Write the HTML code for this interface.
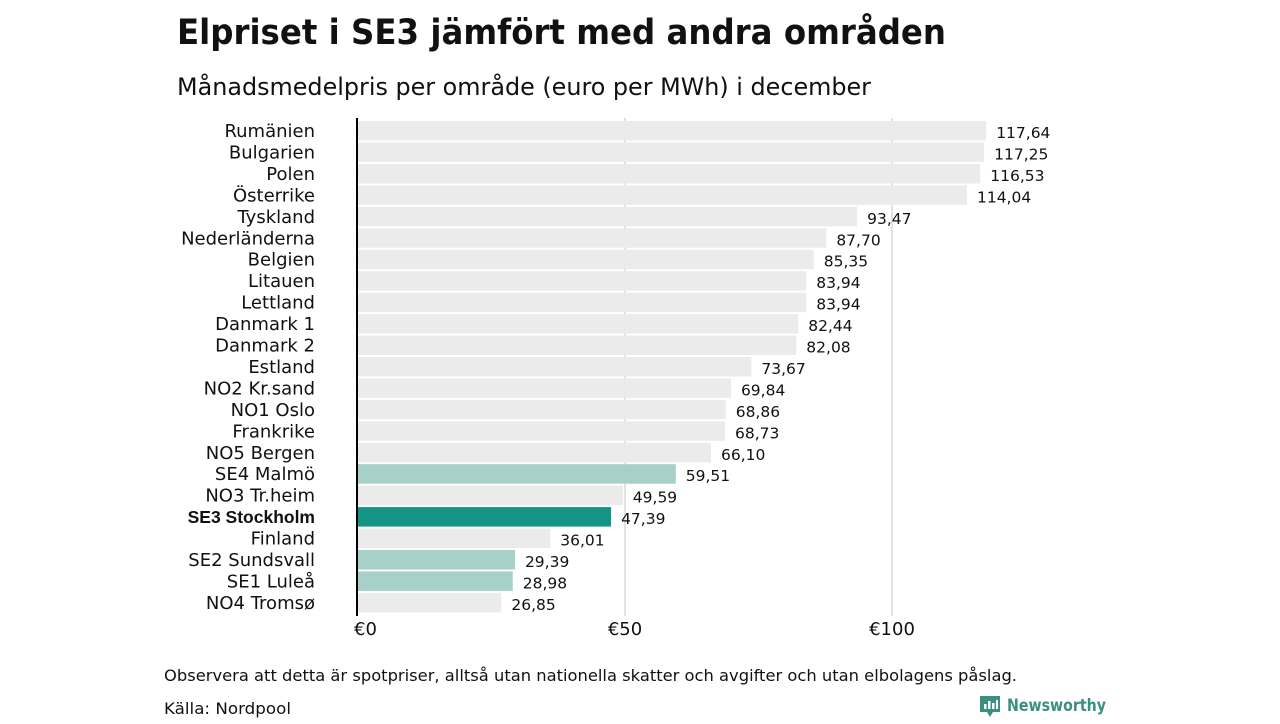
<!DOCTYPE html>
<html><head><meta charset="utf-8"><style>
body{margin:0;background:#fff;width:1280px;height:720px;overflow:hidden;font-family:"DejaVu Sans","Liberation Sans",sans-serif}
</style></head><body>
<svg width="1280" height="720" xmlns="http://www.w3.org/2000/svg">
<text x="177" y="44" font-size="35" font-weight="bold" textLength="769" lengthAdjust="spacingAndGlyphs" font-family="DejaVu Sans, sans-serif" fill="#111">Elpriset i SE3 jämfört med andra områden</text>
<text x="177" y="95" font-size="24" textLength="694" lengthAdjust="spacingAndGlyphs" font-family="DejaVu Sans, sans-serif" fill="#111">Månadsmedelpris per område (euro per MWh) i december</text>
<g id="grid"></g>
<g id="bars"></g>
<line x1="357" y1="118" x2="357" y2="616" stroke="#000" stroke-width="2"/>
<g id="ticks"></g>
<text x="164" y="681" font-size="16" textLength="853" lengthAdjust="spacingAndGlyphs" fill="#111">Observera att detta är spotpriser, alltså utan nationella skatter och avgifter och utan elbolagens påslag.</text>
<text x="164" y="714" font-size="16" textLength="127" lengthAdjust="spacingAndGlyphs" fill="#111">Källa: Nordpool</text>
<g>
<path d="M980 696 h20 v16 h-7 l-3 5 l-3 -5 h-7 z" fill="#3a8f80"/>
<rect x="984" y="704" width="2.5" height="5" fill="#fff"/><rect x="988" y="701" width="2.5" height="8" fill="#fff"/><rect x="992" y="703" width="2.5" height="6" fill="#fff"/><rect x="996" y="700" width="2" height="9" fill="#fff"/>
<text x="1007" y="711" font-size="17" font-weight="bold" textLength="99" lengthAdjust="spacingAndGlyphs" fill="#3a8f80">Newsworthy</text>
</g>
</svg>
<script>
const categories=["Rumänien","Bulgarien","Polen","Österrike","Tyskland","Nederländerna","Belgien","Litauen","Lettland","Danmark  1","Danmark  2","Estland","NO2 Kr.sand","NO1 Oslo","Frankrike","NO5 Bergen","SE4  Malmö","NO3 Tr.heim","SE3 Stockholm","Finland","SE2  Sundsvall","SE1  Luleå","NO4 Tromsø"];
const values=[117.64,117.25,116.53,114.04,93.47,87.70,85.35,83.94,83.94,82.44,82.08,73.67,69.84,68.86,68.73,66.10,59.51,49.59,47.39,36.01,29.39,28.98,26.85];
const tickValues=[0,50,100];
const tickLabels=["€0","€50","€100"];
const NS="http://www.w3.org/2000/svg";
const x=v=>358+v*5.34;
const y=i=>121+i*21.45;
function mk(t,a,p){const e=document.createElementNS(NS,t);for(const k in a)e.setAttribute(k,a[k]);p.appendChild(e);return e;}
const grid=document.getElementById('grid'),bars=document.getElementById('bars'),ticks=document.getElementById('ticks');
tickValues.forEach((t,i)=>{
 if(t>0){const g=mk('line',{x1:x(t),x2:x(t),y1:118,y2:616,stroke:'#d9d9d9','stroke-width':1.5},grid);
 
 }
 const tx=mk('text',{x:x(t)-(t===0?4:0),y:635,'font-size':18,'text-anchor':t===0?'start':'middle',fill:'#111'},ticks);
 tx.textContent=tickLabels[i];
 
 
});
categories.forEach((c,i)=>{
 const se3=c==="SE3 Stockholm";
 const light=c.startsWith("SE")&&!se3;
 const r=mk('rect',{x:358,y:y(i),width:x(values[i])-358,height:19.5,fill:se3?'#139485':light?'#a6d0c8':'#ebebeb'},bars);
 
 
 const l=mk('text',{x:315,y:y(i)+16,'font-size':se3?17.5:18,'text-anchor':'end',fill:'#111','font-weight':se3?'bold':'normal','font-family':se3?'Liberation Sans, sans-serif':'DejaVu Sans, sans-serif','xml:space':'preserve'},bars);
 l.textContent=c;
 
 
 const v=mk('text',{x:x(values[i])+10,y:y(i)+17,'font-size':15.5,fill:'#111'},bars);
 v.textContent=values[i].toFixed(2).replace('.',',');
 
 
});
</script>
</body></html>
